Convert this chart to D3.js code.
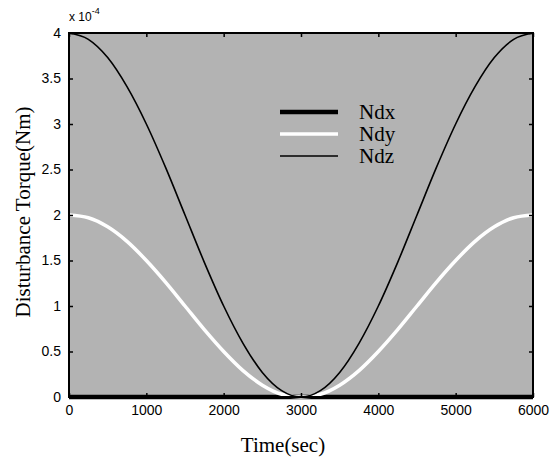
<!DOCTYPE html>
<html><head><meta charset="utf-8">
<script src="https://cdn.jsdelivr.net/npm/d3@7"></script>
<style>body{margin:0;background:#fff;} svg{display:block;}</style>
</head><body>
<svg id="c" width="554" height="458"></svg>
<script>
// Data (torque in units of 1e-4 Nm)
const time = [0,250,500,750,1000,1250,1500,1750,2000,2250,2500,2750,3000,3250,3500,3750,4000,4250,4500,4750,5000,5250,5500,5750,6000];
const ndx  = [0,0,0,0,0,0,0,0,0,0,0,0,0,0,0,0,0,0,0,0,0,0,0,0,0];
const ndy  = [2.0,1.97,1.87,1.71,1.5,1.26,1.0,0.74,0.5,0.29,0.13,0.03,0.0,0.03,0.13,0.29,0.5,0.74,1.0,1.26,1.5,1.71,1.87,1.97,2.0];
const ndz  = [4.0,3.93,3.73,3.41,3.0,2.52,2.0,1.48,1.0,0.59,0.27,0.07,0.0,0.07,0.27,0.59,1.0,1.48,2.0,2.52,3.0,3.41,3.73,3.93,4.0];
const xTicks = [0,1000,2000,3000,4000,5000,6000];
const yTicks = [0,0.5,1,1.5,2,2.5,3,3.5,4];
const yTickLabels = ["0","0.5","1","1.5","2","2.5","3","3.5","4"];
const seriesNames = ["Ndx","Ndy","Ndz"];

const svg = d3.select("#c");
const L=69, R=533, T=33, B=397;
const x = d3.scaleLinear().domain([0,6000]).range([L,R]);
const y = d3.scaleLinear().domain([0,4]).range([B,T]);

svg.append("rect").attr("x",L).attr("y",T).attr("width",R-L).attr("height",B-T).attr("fill","#b3b3b3");

const series = [
  {name:seriesNames[0], vals:ndx, color:"#000", w:4.5},
  {name:seriesNames[1], vals:ndy, color:"#fff", w:3.5},
  {name:seriesNames[2], vals:ndz, color:"#000", w:1.6}
];
const line = d3.line().x((d,i)=>x(time[i])).y(d=>y(d)).curve(d3.curveMonotoneX);
svg.append("g").selectAll("path").data(series).join("path")
  .attr("d",d=>line(d.vals)).attr("fill","none")
  .attr("stroke",d=>d.color).attr("stroke-width",d=>d.w);

// axes with inward ticks (all four sides)
const fmtX = d3.format("d");
const axB = d3.axisBottom(x).tickValues(xTicks).tickSize(-4).tickPadding(8).tickFormat(fmtX);
const axT = d3.axisTop(x).tickValues(xTicks).tickSize(-4).tickFormat("");
const axL = d3.axisLeft(y).tickValues(yTicks).tickSize(-4).tickPadding(8).tickFormat((d,i)=>yTickLabels[i]);
const axR = d3.axisRight(y).tickValues(yTicks).tickSize(-4).tickFormat("");
function style(g){
  g.select(".domain").remove();
  g.selectAll(".tick line").attr("stroke","#000").attr("stroke-width",1.5);
  g.selectAll("text").attr("font-family","Liberation Sans, Arial, sans-serif").attr("font-size",14).attr("fill","#000");
}
svg.append("g").attr("transform",`translate(0,${B})`).call(axB).call(style);
svg.append("g").attr("transform",`translate(0,${T})`).call(axT).call(style);
svg.append("g").attr("transform",`translate(${L},0)`).call(axL).call(style);
svg.append("g").attr("transform",`translate(${R},0)`).call(axR).call(style);
svg.append("rect").attr("x",L).attr("y",T).attr("width",R-L).attr("height",B-T)
  .attr("fill","none").attr("stroke","#000").attr("stroke-width",2);

// exponent label
const ex = svg.append("text").attr("x",69).attr("y",21)
  .attr("font-family","Liberation Sans, Arial, sans-serif").attr("font-size",12).attr("fill","#000");
ex.append("tspan").text("x 10");
ex.append("tspan").attr("dy",-7).attr("font-size",9).text("-4");

// axis titles
svg.append("text").attr("x",283).attr("y",452).attr("text-anchor","middle")
  .attr("font-family","Liberation Serif, Times New Roman, serif").attr("font-size",21).attr("fill","#000").text("Time(sec)");
svg.append("text").attr("transform","translate(30,212) rotate(-90)").attr("text-anchor","middle")
  .attr("font-family","Liberation Serif, Times New Roman, serif").attr("font-size",21).attr("fill","#000").text("Disturbance Torque(Nm)");

// legend
const leg = svg.append("g");
series.forEach((s,i)=>{
  const yy = 112 + i*22;
  leg.append("line").attr("x1",280).attr("x2",338).attr("y1",yy).attr("y2",yy)
    .attr("stroke",s.color).attr("stroke-width",s.w);
  leg.append("text").attr("x",359).attr("y",yy+7)
    .attr("font-family","Liberation Serif, Times New Roman, serif").attr("font-size",21).attr("fill","#000").text(s.name);
});
</script>
</body></html>
